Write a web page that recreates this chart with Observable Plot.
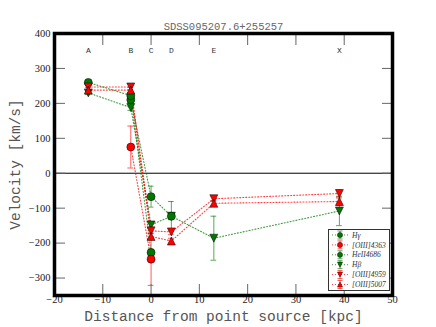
<!DOCTYPE html>
<html><head><meta charset="utf-8">
<script src="https://cdn.jsdelivr.net/npm/d3@7"></script>
<script src="https://cdn.jsdelivr.net/npm/@observablehq/plot@0.6"></script>
<style>
body{margin:0;background:#fff;}
#wrap{position:relative;width:436px;height:327px;}
#wrap svg{display:block;}
</style></head><body><div id="wrap"></div>
<script>
// positions of the regions (kpc) and their labels
const positions = [-13, -4.2, 0, 4.2, 13, 39];
const regionLabels = ["A", "B", "C", "D", "E", "X"];

// series (legend order)
const seriesNames = ["Hγ", "[OIII]4363", "HeII4686", "Hβ", "[OIII]4959", "[OIII]5007"];
const seriesColors = ["#007800", "#ff0000", "#007800", "#007800", "#ff0000", "#ff0000"];
const seriesSymbols = ["circle", "circle", "circle", "down", "down", "up"];

// velocities (km/s) at each position, null = not measured
const hGamma    = [260, 222, -227, null, null, null];
const hGammaErr = [6, 8, 10, null, null, null];
const oiii4363    = [null, 75, -246, null, null, null];
const oiii4363Err = [null, 60, 75, null, null, null];
const heII4686    = [null, 210, -67, -123, null, null];
const heII4686Err = [null, 8, 30, 42, null, null];
const hBeta    = [230, 188, -148, -123, -186, -108];
const hBetaErr = [5, 8, 10, 10, 63, 42];
const oiii4959    = [247, 247, -165, -168, -73, -58];
const oiii4959Err = [8, 8, 8, 8, 8, 10];
const oiii5007    = [238, 238, -181, -194, -86, -81];
const oiii5007Err = [8, 8, 8, 8, 8, 10];

const xTicks = [-20, -10, 0, 10, 20, 30, 40, 50];
const yTicks = [-300, -200, -100, 0, 100, 200, 300, 400];

const seriesValues = [hGamma, oiii4363, heII4686, hBeta, oiii4959, oiii5007];
const seriesErrors = [hGammaErr, oiii4363Err, heII4686Err, hBetaErr, oiii4959Err, oiii5007Err];

const points = [];
seriesNames.forEach((name, s) => {
  seriesValues[s].forEach((v, i) => {
    if (v !== null) points.push({series: name, x: positions[i], v, e: seriesErrors[s][i], col: seriesColors[s], sym: seriesSymbols[s]});
  });
});

const triDown = {draw(ctx, size) { const r = Math.sqrt(size / Math.PI); ctx.moveTo(-r, -r); ctx.lineTo(r, -r); ctx.lineTo(0, r); ctx.closePath(); }};
const triUp = {draw(ctx, size) { const r = Math.sqrt(size / Math.PI); ctx.moveTo(-r, r); ctx.lineTo(r, r); ctx.lineTo(0, -r); ctx.closePath(); }};
const symbolOf = {circle: "circle", down: triDown, up: triUp};

// draw order: green first, red on top
const drawOrder = ["Hβ", "HeII4686", "Hγ", "[OIII]4959", "[OIII]5007", "[OIII]4363"];
const dotMarks = drawOrder.map(name => {
  const s = seriesNames.indexOf(name);
  return Plot.dot(points.filter(d => d.series === name), {
    x: "x", y: "v", r: 4, symbol: symbolOf[seriesSymbols[s]],
    fill: seriesColors[s], stroke: "black", strokeWidth: 0.5
  });
});

const mono = "Liberation Mono";
const serif = "Liberation Serif";
const chart = Plot.plot({
  width: 436, height: 327,
  marginLeft: 54, marginRight: 44, marginTop: 33, marginBottom: 32,
  x: {domain: [-20, 50]},
  y: {domain: [-350, 400]},
  color: {type: "identity"},
  style: {fontFamily: serif, fontSize: "10px", color: "#222", background: "white", overflow: "visible"},
  marks: [
    Plot.ruleY([0], {stroke: "black", strokeWidth: 1}),
    Plot.line(points, {x: "x", y: "v", z: "series", stroke: "col", strokeDasharray: "1,2", strokeWidth: 1.1, strokeOpacity: 0.75}),
    Plot.ruleX(points, {x: "x", y1: d => d.v - d.e, y2: d => d.v + d.e, stroke: "col", strokeOpacity: 0.65}),
    Plot.ruleY(points, {y: d => d.v + d.e, x1: d => d.x - 0.6, x2: d => d.x + 0.6, stroke: "col", strokeOpacity: 0.65}),
    Plot.ruleY(points, {y: d => d.v - d.e, x1: d => d.x - 0.6, x2: d => d.x + 0.6, stroke: "col", strokeOpacity: 0.65}),
    ...dotMarks,
    Plot.axisX(xTicks, {anchor: "bottom", tickSize: -11, tickPadding: 11, stroke: "#666", label: null, fill: "#222", fontFamily: serif, fontSize: 10.5}),
    Plot.axisX(xTicks, {anchor: "top", tickSize: -11, tickFormat: () => "", stroke: "#666", label: null}),
    Plot.axisY(yTicks, {anchor: "left", tickSize: -11, tickPadding: 15, stroke: "#666", label: null, fill: "#222", fontFamily: serif, fontSize: 10.5}),
    Plot.axisY(yTicks, {anchor: "right", tickSize: -11, tickFormat: () => "", stroke: "#666", label: null}),
    Plot.frame({stroke: "black", strokeWidth: 3.5}),
    Plot.text(regionLabels, {x: positions, text: d => d, frameAnchor: "top", lineAnchor: "middle", dy: 16.5, fontFamily: mono, fontSize: 8, fill: "#333"}),
    Plot.text(["SDSS095207.6+255257"], {frameAnchor: "top", lineAnchor: "middle", dy: -6.5, fontFamily: mono, fontSize: 10.5, fill: "#666"}),
    Plot.text(["Distance from point source [kpc]"], {frameAnchor: "bottom", lineAnchor: "middle", dy: 20.5, fontFamily: mono, fontSize: 14.5, fill: "#555"}),
    Plot.text(["Velocity [km/s]"], {frameAnchor: "left", textAnchor: "middle", lineAnchor: "middle", dx: -39, rotate: -90, fontFamily: mono, fontSize: 14.5, fill: "#555"})
  ]
});
const wrap = document.getElementById("wrap");
wrap.appendChild(chart);

// legend inside the lower-right corner
const lg = d3.select(wrap).append("svg")
  .attr("width", 62).attr("height", 63)
  .style("position", "absolute").style("left", "328px").style("top", "229px");
lg.append("rect").attr("x", 0.5).attr("y", 0.5).attr("width", 61).attr("height", 61)
  .attr("fill", "white").attr("stroke", "#333").attr("stroke-width", 1);
seriesNames.forEach((name, i) => {
  const y = 6 + i * 9.9, cx = 12, c = seriesColors[i];
  const g = lg.append("g");
  g.append("line").attr("x1", 4).attr("x2", 20).attr("y1", y).attr("y2", y)
    .attr("stroke", c).attr("stroke-dasharray", "1,2").attr("stroke-opacity", 0.75);
  g.append("line").attr("x1", cx).attr("x2", cx).attr("y1", y - 4).attr("y2", y + 4).attr("stroke", c).attr("stroke-opacity", 0.65);
  g.append("line").attr("x1", cx - 2.5).attr("x2", cx + 2.5).attr("y1", y - 4).attr("y2", y - 4).attr("stroke", c).attr("stroke-opacity", 0.65);
  g.append("line").attr("x1", cx - 2.5).attr("x2", cx + 2.5).attr("y1", y + 4).attr("y2", y + 4).attr("stroke", c).attr("stroke-opacity", 0.65);
  const sym = seriesSymbols[i];
  const r = 2.6;
  const p = sym === "circle" ? null : sym === "down"
    ? `M${cx - r},${y - r}L${cx + r},${y - r}L${cx},${y + r}Z`
    : `M${cx - r},${y + r}L${cx + r},${y + r}L${cx},${y - r}Z`;
  if (p === null) g.append("circle").attr("cx", cx).attr("cy", y).attr("r", r).attr("fill", c).attr("stroke", "black").attr("stroke-width", 0.4);
  else g.append("path").attr("d", p).attr("fill", c).attr("stroke", "black").attr("stroke-width", 0.4);
  g.append("text").attr("x", 24).attr("y", y).attr("dy", "0.35em")
    .attr("font-family", serif).attr("font-style", "italic").attr("font-size", 7.5).attr("fill", "#333")
    .text(name);
});
</script>
</body></html>
